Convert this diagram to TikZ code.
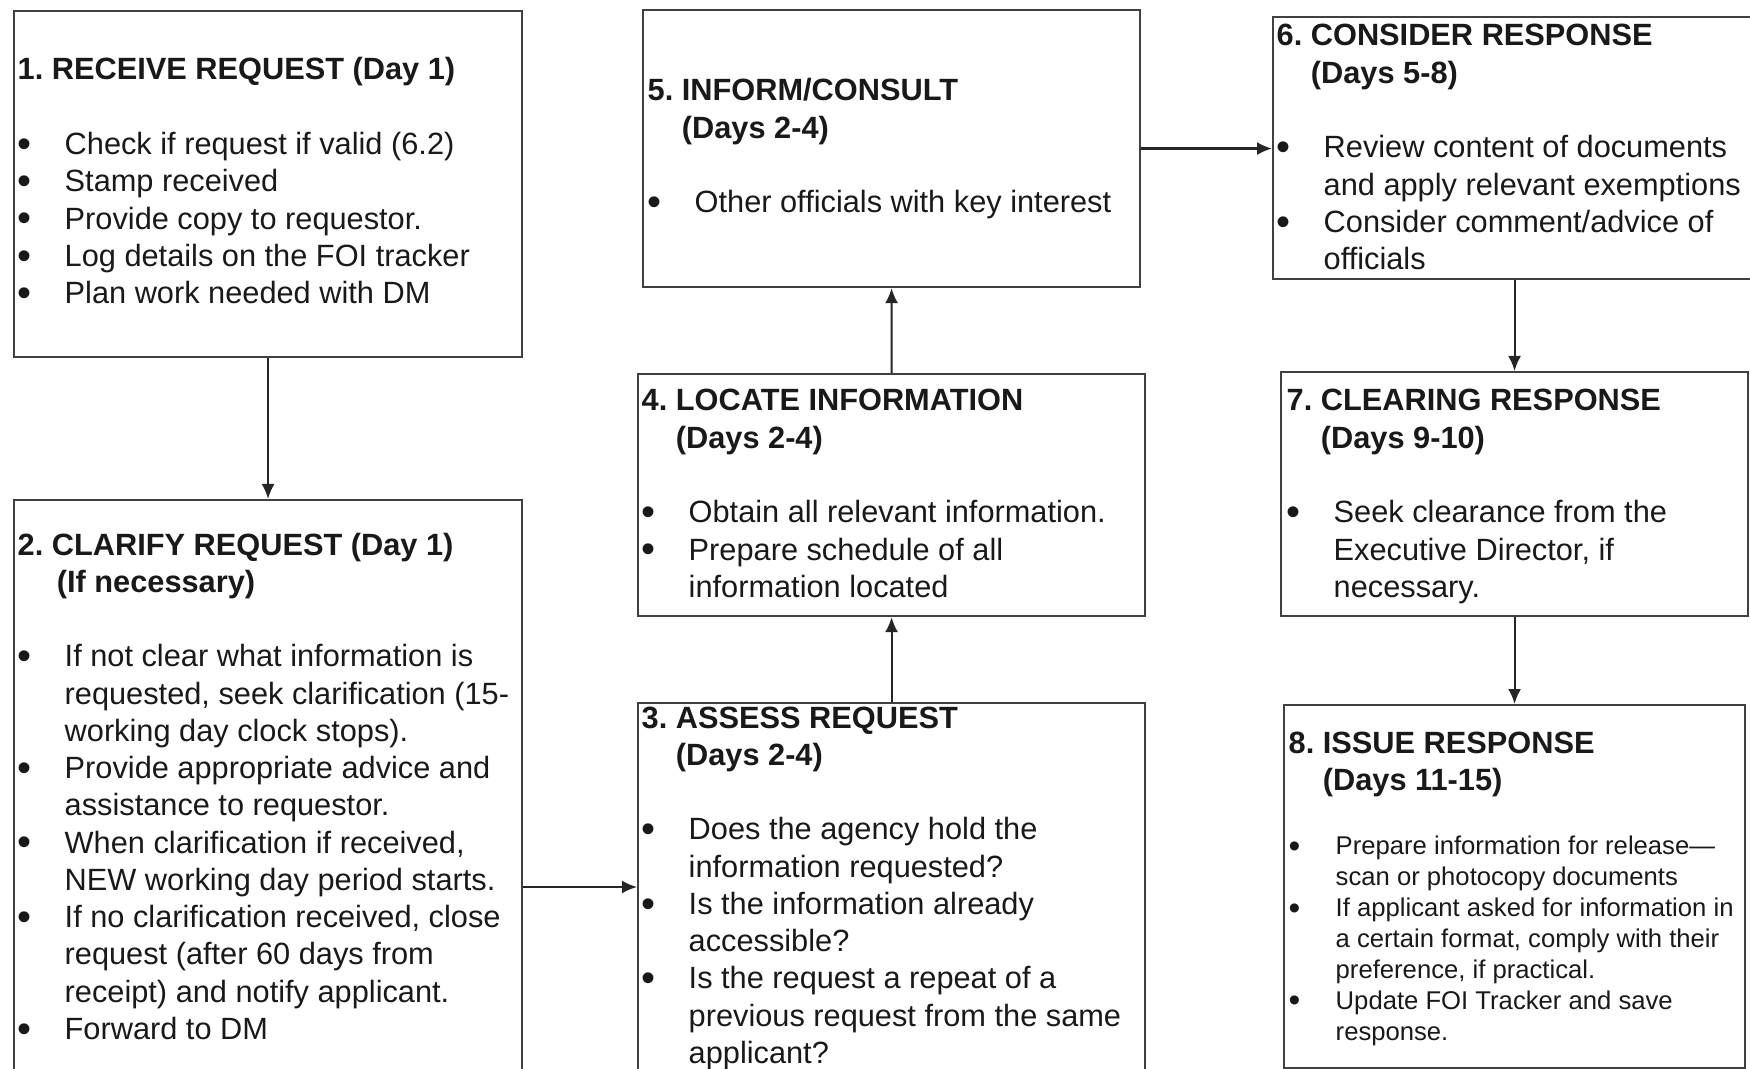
\documentclass[tikz,border=0pt]{standalone}
\usepackage{fontspec}
\usepackage{graphicx}
\setmainfont{Liberation Sans}
\usetikzlibrary{arrows.meta}
\frenchspacing

% body fonts of the boxes
\newcommand{\stepfont}{\fontsize{8.75}{10.6}\selectfont}
\newcommand{\notefont}{\fontsize{7.3}{8.8}\selectfont}
% one bullet line, hanging indent for the wrapped lines
\newcommand{\bitem}{\par\hangindent=4.7mm\hangafter=1\noindent\makebox[4.7mm][l]{\raisebox{-0.09em}{\scalebox{1.3}{\textbullet}}}}
% numbered heading with the days on a second line
\newcommand{\steptitle}[3]{{\bfseries #1 #2\newline\phantom{#1 }#3}\par\vspace{10.6pt}}
\newcommand{\steppar}[1]{\parbox[t]{60mm}{\stepfont\raggedright #1}}

\begin{document}
\begin{tikzpicture}[x=1mm, y=-1mm,
    stepbox/.style={draw=black!75, line width=0.6pt, anchor=north west, inner sep=0pt},
    steptext/.style={anchor=base west, inner sep=0pt, text=black!90},
    flow/.style={draw=black!85, line width=0.6pt, -{Latex[length=1.5mm, width=1.3mm]}}]
\useasboundingbox (0,0) rectangle (175,106.9);
\clip (0,0) rectangle (175,106.9);

% the eight steps
\node[stepbox, minimum width=50.8mm, minimum height=34.6mm] (receive) at (1.3,1.0) {};
\node[stepbox, minimum width=50.8mm, minimum height=60mm] (clarify) at (1.3,49.9) {};
\node[stepbox, minimum width=50.7mm, minimum height=40mm] (assess) at (63.7,70.2) {};
\node[stepbox, minimum width=50.7mm, minimum height=24.2mm] (locate) at (63.7,37.3) {};
\node[stepbox, minimum width=49.7mm, minimum height=27.7mm] (inform) at (64.2,0.9) {};
\node[stepbox, minimum width=48.2mm, minimum height=26.2mm] (consider) at (127.2,1.6) {};
\node[stepbox, minimum width=46.7mm, minimum height=24.4mm] (clearing) at (128.0,37.1) {};
\node[stepbox, minimum width=46.1mm, minimum height=36.3mm] (issue) at (128.3,70.4) {};

% texts
\node[steptext] (receive-txt) at ([shift={(0.4,7.0)}]receive.north west) {\steppar{%
  {\bfseries 1. RECEIVE REQUEST (Day 1)}\par\vspace{10.6pt}
  \bitem Check if request if valid (6.2)
  \bitem Stamp received
  \bitem Provide copy to requestor.
  \bitem Log details on the FOI tracker
  \bitem Plan work needed with DM}};

\node[steptext] (clarify-txt) at ([shift={(0.4,5.6)}]clarify.north west) {\steppar{%
  \steptitle{2.}{CLARIFY REQUEST (Day 1)}{\hspace{0.5mm}(If necessary)}
  \bitem If not clear what information is\newline requested, seek clarification (15-\newline working day clock stops).
  \bitem Provide appropriate advice and\newline assistance to requestor.
  \bitem When clarification if received,\newline NEW working day period starts.
  \bitem If no clarification received, close\newline request (after 60 days from\newline receipt) and notify applicant.
  \bitem Forward to DM}};

\node[steptext] (assess-txt) at ([shift={(0.4,2.6)}]assess.north west) {\steppar{%
  \steptitle{3.}{ASSESS REQUEST}{(Days 2-4)}
  \bitem Does the agency hold the\newline information requested?
  \bitem Is the information already\newline accessible?
  \bitem Is the request a repeat of a\newline previous request from the same\newline applicant?}};

\node[steptext] (locate-txt) at ([shift={(0.4,3.8)}]locate.north west) {\steppar{%
  \steptitle{4.}{LOCATE INFORMATION}{(Days 2-4)}
  \bitem Obtain all relevant information.
  \bitem Prepare schedule of all\newline information located}};

\node[steptext] (inform-txt) at ([shift={(0.5,9.2)}]inform.north west) {\steppar{%
  \steptitle{5.}{INFORM/CONSULT}{(Days 2-4)}
  \bitem Other officials with key interest}};

\node[steptext] (consider-txt) at ([shift={(0.4,3.0)}]consider.north west) {\steppar{%
  \steptitle{6.}{CONSIDER RESPONSE}{(Days 5-8)}
  \bitem Review content of documents\newline and apply relevant exemptions
  \bitem Consider comment/advice of\newline officials}};

\node[steptext] (clearing-txt) at ([shift={(0.6,4.0)}]clearing.north west) {\steppar{%
  \steptitle{7.}{CLEARING RESPONSE}{(Days 9-10)}
  \bitem Seek clearance from the\newline Executive Director, if\newline necessary.}};

\node[steptext] (issue-txt) at ([shift={(0.5,4.9)}]issue.north west) {\steppar{%
  {\bfseries 8. ISSUE RESPONSE\newline\phantom{8. }(Days 11-15)}\par\vspace{9.6pt}
  \notefont
  \bitem Prepare information for release---\newline scan or photocopy documents
  \bitem If applicant asked for information in\newline a certain format, comply with their\newline preference, if practical.
  \bitem Update FOI Tracker and save\newline response.}};

% connectors
\coordinate (mid23) at (0,88.7);
\draw[flow] (receive.south) -- (clarify.north);
\draw[flow] (clarify.east |- mid23) -- (assess.west |- mid23);
\draw[flow] (assess.north) -- (locate.south);
\draw[flow] (locate.north) -- (inform.south);
\draw[flow] (inform.east) -- (inform.east -| consider.west);
\draw[flow] (consider.south -| clearing.north) -- (clearing.north);
\draw[flow] (clearing.south) -- (issue.north);
\end{tikzpicture}
\end{document}
